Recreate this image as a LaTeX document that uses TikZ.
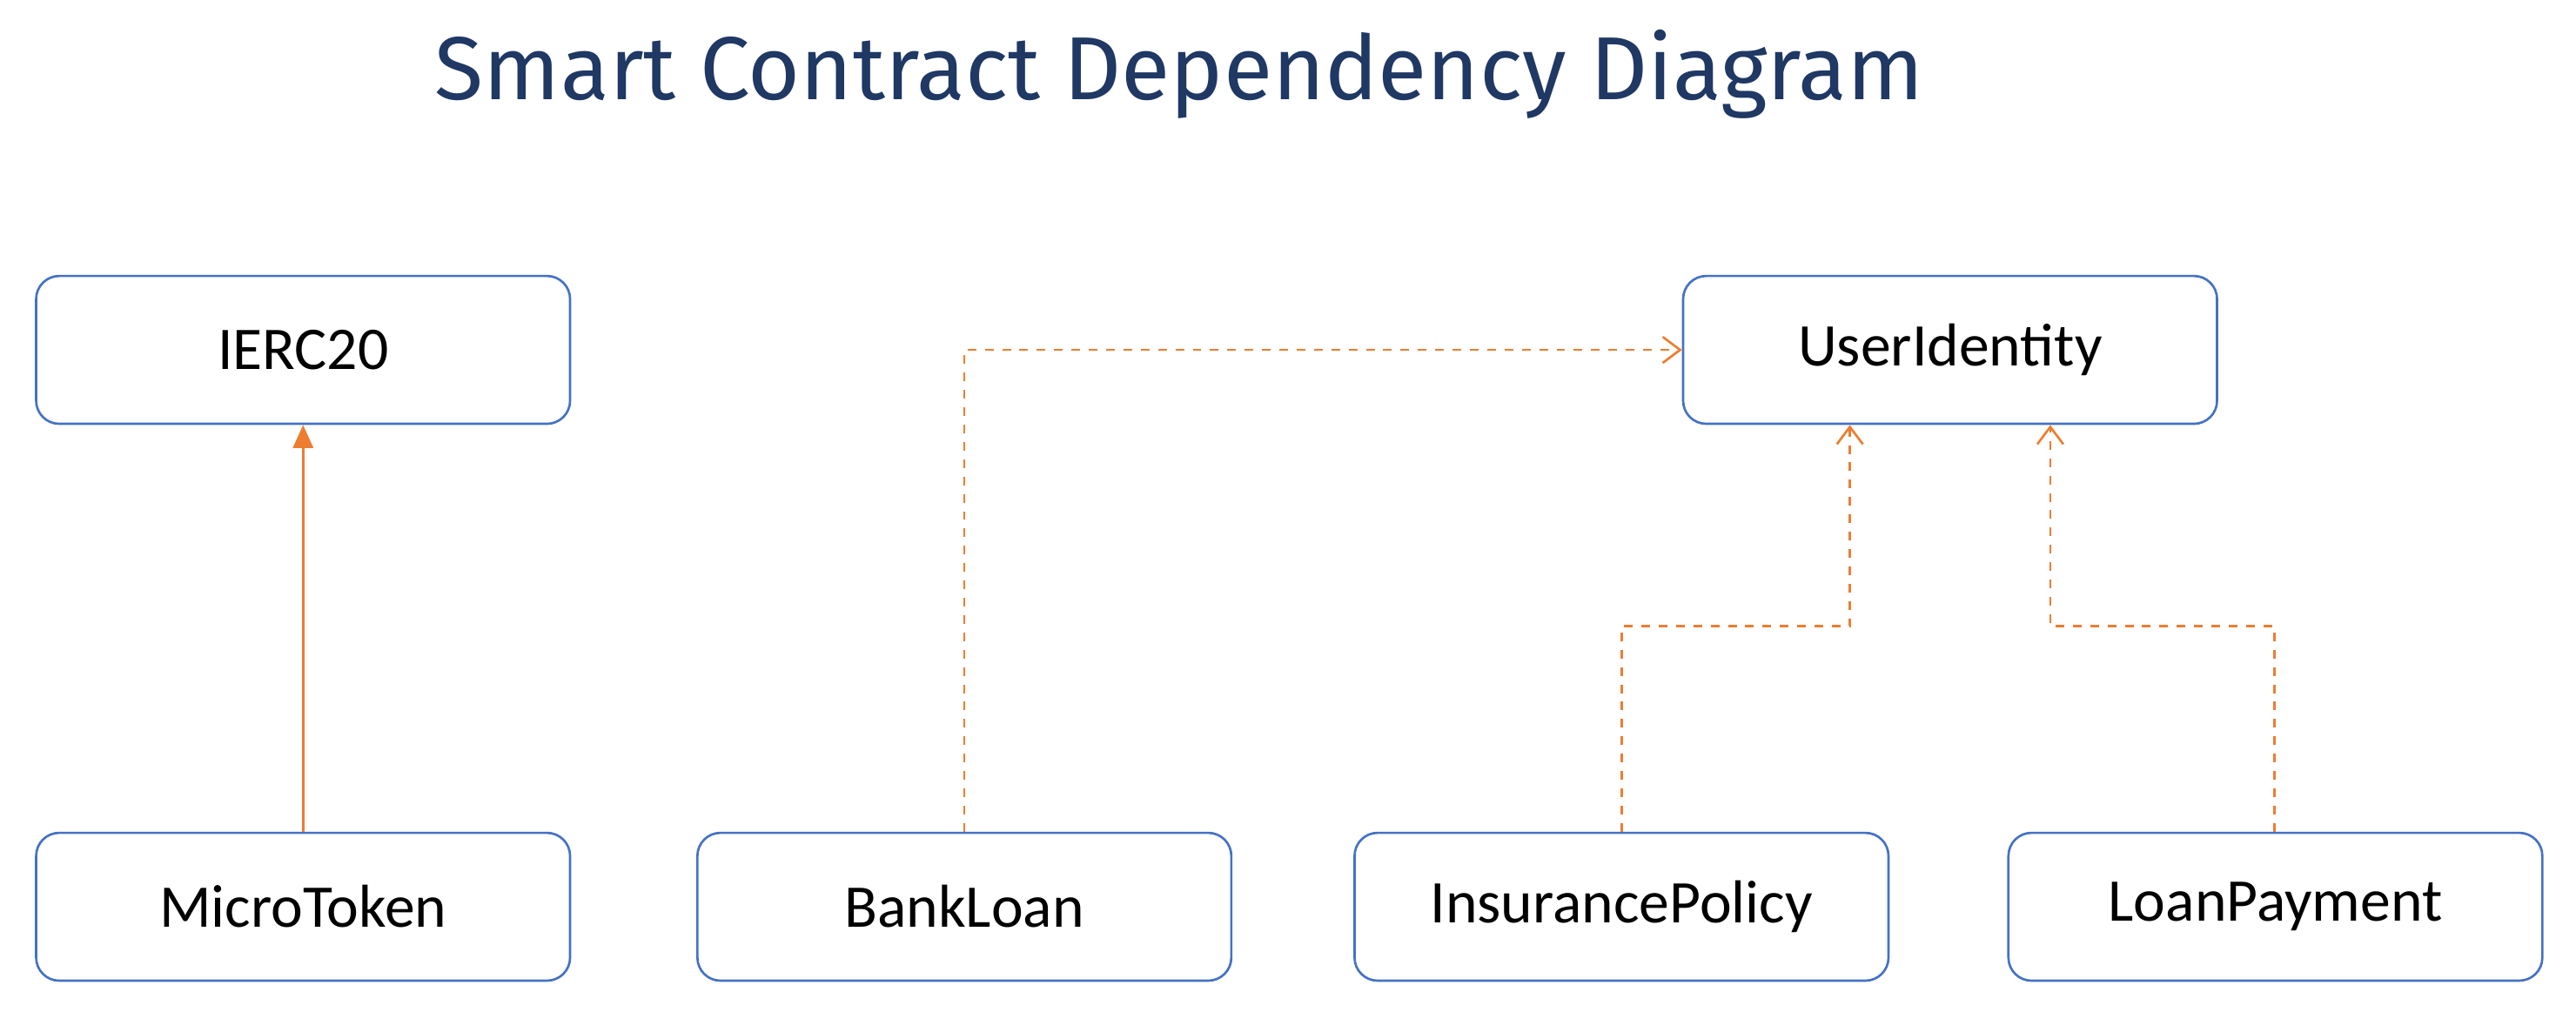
\documentclass[tikz,border=0pt]{standalone}
\usepackage{fontspec}
\setmainfont{Carlito}
\newfontfamily\titlefont{Fira Sans}
\usetikzlibrary{arrows.meta}
\definecolor{boxblue}{HTML}{4472C4}
\definecolor{deporange}{HTML}{ED7D31}
\definecolor{titleblue}{HTML}{1F3864}
\tikzset{
  contract/.style={draw=boxblue, thick, rounded corners=8pt, minimum width=6.5cm,
    minimum height=1.8cm, font=\fontsize{21}{25}\selectfont},
  inherit/.style={deporange, thick, -{Triangle[length=8pt,width=7pt]}},
  dep/.style={deporange, thick, dashed, -{Straight Barb[length=6pt,width=9pt]}}
}
\begin{document}
\begin{tikzpicture}
  \useasboundingbox (0,0) rectangle (31.36,12.32);
  \node[titleblue, font=\titlefont\fontsize{31}{36}\selectfont] (title) at (14.36,11.42) {Smart Contract Dependency Diagram};

  \node[contract] (ierc) at (3.69,8.06) {IERC20};
  \node[contract] (ui) at (23.74,8.06) {UserIdentity};
  \node[contract] (mt) at (3.69,1.28) {MicroToken};
  \node[contract] (bl) at (11.74,1.28) {BankLoan};
  \node[contract] (ip) at (19.74,1.28) {InsurancePolicy};
  \node[contract] (lp) at (27.70,1.28) {LoanPayment};

  \draw[inherit] (mt) -- (ierc);
  \draw[dep] (bl.north) |- (ui.west);
  \draw[dep] (ip.north) -- ++(0,2.5) -| ([xshift=-1.22cm]ui.south);
  \draw[dep] ([xshift=-0.01cm]lp.north) -- ++(0,2.5) -| ([xshift=1.22cm]ui.south);
\end{tikzpicture}
\end{document}
